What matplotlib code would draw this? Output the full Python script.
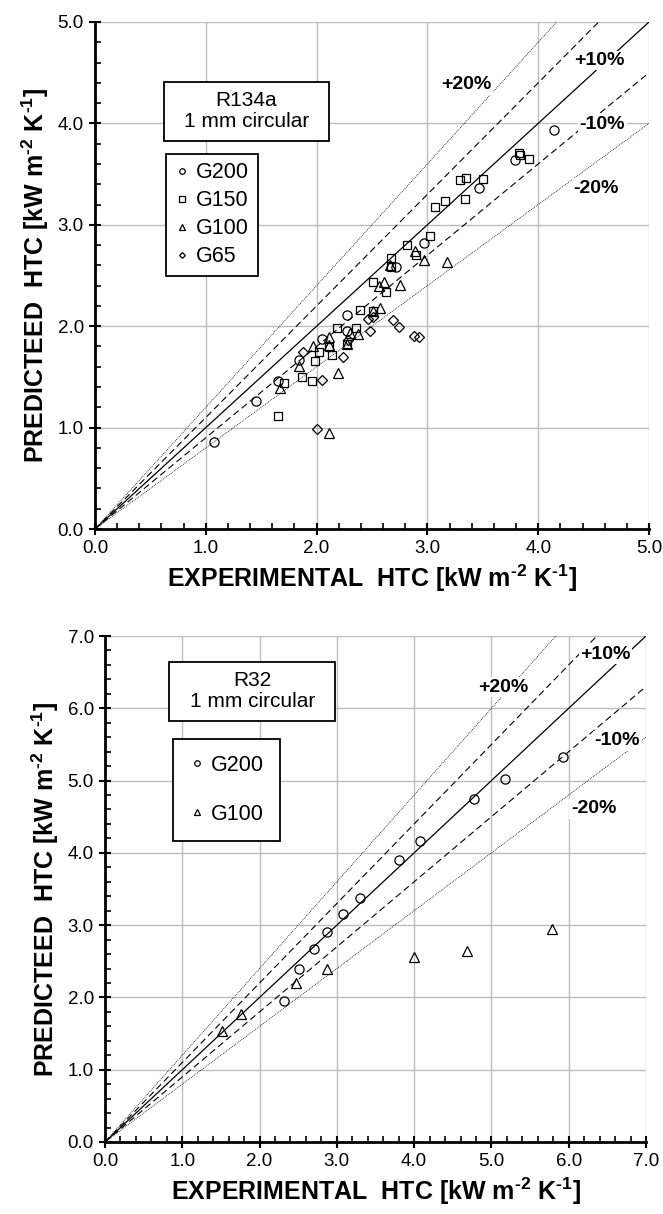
import matplotlib.pyplot as plt
from matplotlib.patches import Rectangle

plt.rcParams['font.family'] = ['Liberation Sans', 'DejaVu Sans']
plt.rcParams['mathtext.fontset'] = 'custom'
plt.rcParams['mathtext.rm'] = 'Liberation Sans'
plt.rcParams['mathtext.bf'] = 'Liberation Sans:bold'

# ---- R134a, 1 mm circular (experimental, predicted HTC) ----
r134a_g200_x = [1.07, 1.45, 1.65, 1.84, 2.05, 2.27, 2.27, 2.72, 2.97, 3.47, 3.79, 4.14]
r134a_g200_y = [0.86, 1.26, 1.46, 1.67, 1.87, 2.11, 1.95, 2.58, 2.82, 3.36, 3.64, 3.93]
r134a_g150_x = [1.65, 1.71, 1.87, 1.96, 1.99, 2.02, 2.11, 2.14, 2.18, 2.27, 2.36, 2.39, 2.51, 2.51,
                2.63, 2.67, 2.67, 2.82, 2.90, 3.02, 3.07, 3.16, 3.29, 3.35, 3.34, 3.50, 3.83, 3.84, 3.92]
r134a_g150_y = [1.11, 1.44, 1.50, 1.46, 1.66, 1.75, 1.79, 1.72, 1.98, 1.82, 1.98, 2.16, 2.15, 2.44,
                2.34, 2.67, 2.58, 2.80, 2.70, 2.89, 3.18, 3.23, 3.44, 3.46, 3.25, 3.45, 3.71, 3.69, 3.65]
r134a_g100_x = [1.67, 1.84, 1.97, 2.11, 2.11, 2.11, 2.19, 2.27, 2.30, 2.37, 2.51, 2.57, 2.56, 2.61,
                2.66, 2.75, 2.89, 2.97, 3.18]
r134a_g100_y = [1.39, 1.61, 1.80, 0.95, 1.89, 1.81, 1.54, 1.82, 1.93, 1.92, 2.15, 2.18, 2.40, 2.44,
                2.60, 2.41, 2.74, 2.65, 2.63]
r134a_g65_x = [1.88, 2.00, 2.05, 2.24, 2.28, 2.46, 2.51, 2.48, 2.69, 2.74, 2.88, 2.92]
r134a_g65_y = [1.75, 0.99, 1.47, 1.70, 1.86, 2.07, 2.09, 1.95, 2.06, 1.99, 1.90, 1.89]

# ---- R32, 1 mm circular ----
r32_g200_x = [2.32, 2.51, 2.71, 2.87, 3.08, 3.30, 3.81, 4.08, 4.78, 5.18, 5.92]
r32_g200_y = [1.95, 2.40, 2.67, 2.91, 3.15, 3.38, 3.90, 4.17, 4.74, 5.02, 5.33]
r32_g100_x = [1.51, 1.76, 2.47, 2.87, 4.00, 4.69, 5.78]
r32_g100_y = [1.53, 1.77, 2.20, 2.40, 2.56, 2.64, 2.94]

band_factors = [1.2, 1.1, 1.0, 0.9, 0.8]
band_labels = ['+20%', '+10%', '-10%', '-20%']

xlabel = 'EXPERIMENTAL  HTC [kW m$^{\\mathbf{\u20102}}$ K$^{\\mathbf{\u20101}}$]'
ylabel = 'PREDICTEED  HTC [kW m$^{\\mathbf{\u20102}}$ K$^{\\mathbf{\u20101}}$]'

markers = {'G200': ('o', 6.6), 'G150': ('s', 6.2), 'G100': ('^', 6.8), 'G65': ('D', 4.9)}


def setup_axes(ax, lim):
    ax.set_xlim(0, lim)
    ax.set_ylim(0, lim)
    ticks = [float(i) for i in range(lim + 1)]
    ax.set_xticks(ticks)
    ax.set_yticks(ticks)
    ax.set_xticklabels(['%.1f' % t for t in ticks])
    ax.set_yticklabels(['%.1f' % t for t in ticks])
    minor = [i * 0.2 for i in range(lim * 5 + 1)]
    ax.set_xticks(minor, minor=True)
    ax.set_yticks(minor, minor=True)
    ax.tick_params(which='major', direction='inout', length=8, width=1.5, labelsize=13.5, pad=4)
    ax.tick_params(which='minor', direction='in', length=4, width=1.2)
    ax.grid(True, which='major', color='#bdbdbd', lw=1.0)
    ax.set_axisbelow(True)
    for s in ['top', 'right']:
        ax.spines[s].set_visible(False)
    for s in ['left', 'bottom']:
        ax.spines[s].set_linewidth(2.0)
    ax.set_xlabel(xlabel, fontsize=18, fontweight='bold', labelpad=4)
    ax.set_ylabel(ylabel, fontsize=18, fontweight='bold', labelpad=5)


def draw_bands(ax, lim):
    xs = [0, lim]
    styles = ['dotted', 'dashed', 'solid', 'dashed', 'dotted']
    for f, st in zip(band_factors, styles):
        if st == 'dotted':
            ax.plot(xs, [x * f for x in xs], color='black', lw=0.6, ls=(0, (1, 1.3)))
        elif st == 'dashed':
            ax.plot(xs, [x * f for x in xs], color='black', lw=0.8, ls=(0, (6, 3.5)))
        else:
            ax.plot(xs, [x * f for x in xs], color='black', lw=0.9)


def draw_series(ax, xs, ys, name):
    m, ms = markers[name]
    ax.plot(xs, ys, ls='none', marker=m, ms=ms, mfc='none', mec='black', mew=0.9,
            label=name, clip_on=False)


fig = plt.figure(figsize=(6.63, 12.14), dpi=100)

# ---------------- top panel ----------------
ax1 = fig.add_axes([95 / 663, 1 - 529 / 1214, 554 / 663, 507 / 1214])
setup_axes(ax1, 5)
draw_bands(ax1, 5)
draw_series(ax1, r134a_g200_x, r134a_g200_y, 'G200')
draw_series(ax1, r134a_g150_x, r134a_g150_y, 'G150')
draw_series(ax1, r134a_g100_x, r134a_g100_y, 'G100')
draw_series(ax1, r134a_g65_x, r134a_g65_y, 'G65')

for lab, pos in zip(band_labels, [(3.35, 4.38), (4.55, 4.62), (4.58, 3.99), (4.52, 3.36)]):
    ax1.text(pos[0], pos[1], lab, fontsize=14, fontweight='bold', ha='center', va='center',
             bbox=dict(fc='white', ec='none', pad=1.0))

ax1.add_patch(Rectangle((0.62, 3.83), 1.49, 0.58, fc='white', ec='black', lw=1.3, zorder=5))
ax1.text(1.365, 4.12, 'R134a\n1 mm circular', fontsize=15, ha='center', va='center',
         linespacing=1.1, zorder=6)
leg1 = ax1.legend(loc='upper left', bbox_to_anchor=(0.64, 3.70), bbox_transform=ax1.transData,
                  borderaxespad=0, fontsize=15.5, markerscale=0.6, handlelength=0.7,
                  handletextpad=0.3, labelspacing=0.32, borderpad=0.4, fancybox=False,
                  edgecolor='black', framealpha=1)
leg1.get_frame().set_linewidth(1.3)

# ---------------- bottom panel ----------------
ax2 = fig.add_axes([105 / 663, 1 - 1142 / 1214, 541 / 663, 506 / 1214])
setup_axes(ax2, 7)
draw_bands(ax2, 7)
draw_series(ax2, r32_g200_x, r32_g200_y, 'G200')
draw_series(ax2, r32_g100_x, r32_g100_y, 'G100')

for lab, pos in zip(band_labels, [(5.15, 6.29), (6.48, 6.75), (6.62, 5.55), (6.32, 4.61)]):
    ax2.text(pos[0], pos[1], lab, fontsize=14, fontweight='bold', ha='center', va='center',
             bbox=dict(fc='white', ec='none', pad=1.0))

ax2.add_patch(Rectangle((0.83, 5.83), 2.15, 0.81, fc='white', ec='black', lw=1.3, zorder=5))
ax2.text(1.905, 6.235, 'R32\n1 mm circular', fontsize=15, ha='center', va='center',
         linespacing=1.15, zorder=6)
leg2 = ax2.legend(loc='upper left', bbox_to_anchor=(0.88, 5.58), bbox_transform=ax2.transData,
                  borderaxespad=0, fontsize=15.5, markerscale=0.6, handlelength=0.7,
                  handletextpad=0.3, labelspacing=1.3, borderpad=0.75, fancybox=False,
                  edgecolor='black', framealpha=1)
leg2.get_frame().set_linewidth(1.3)

fig.savefig('out.png', dpi=100)
